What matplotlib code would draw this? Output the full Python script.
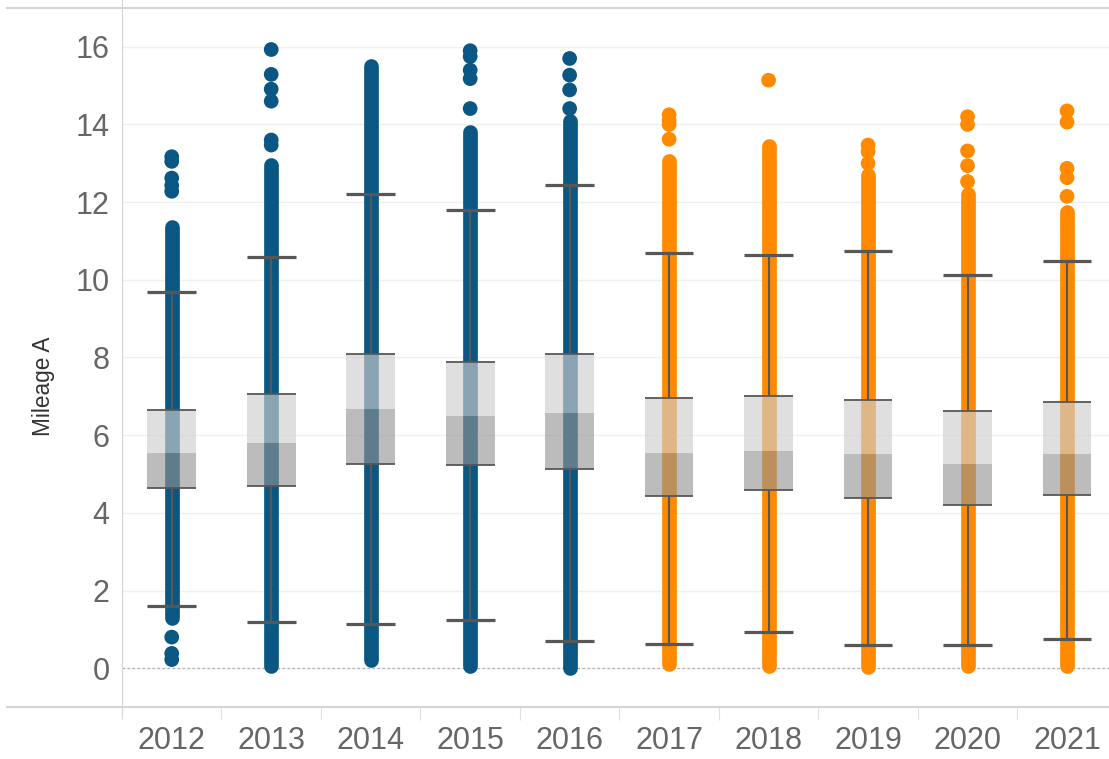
import numpy as np
import matplotlib
matplotlib.use('Agg')
import matplotlib.pyplot as plt
from matplotlib import font_manager

# Fuente estrecha tipo Tableau si existe
try:
    font_manager.findfont('Liberation Sans Narrow', fallback_to_default=False)
    FONT, SCALE = 'Liberation Sans Narrow', 1.1
except ValueError:
    FONT, SCALE = 'Liberation Sans', 0.88
plt.rcParams['font.family'] = [FONT, 'DejaVu Sans']

# Datos
years = ['2012', '2013', '2014', '2015', '2016', '2017', '2018', '2019', '2020', '2021']
colors = ['#0b5783'] * 5 + ['#ff8a00'] * 5

whisker_low = [1.59, 1.18, 1.13, 1.23, 0.69, 0.63, 0.93, 0.59, 0.59, 0.74]
q1 = [4.65, 4.68, 5.26, 5.24, 5.14, 4.44, 4.60, 4.37, 4.19, 4.47]
median = [5.55, 5.80, 6.68, 6.50, 6.57, 5.55, 5.59, 5.52, 5.26, 5.52]
q3 = [6.65, 7.05, 8.09, 7.88, 8.09, 6.96, 7.00, 6.91, 6.63, 6.86]
whisker_high = [9.68, 10.58, 12.20, 11.81, 12.45, 10.68, 10.63, 10.73, 10.12, 10.48]

# Tramo donde los puntos se solapan formando una columna continua
dense_low = [1.30, 0.05, 0.20, 0.05, 0.00, 0.10, 0.05, 0.03, 0.05, 0.05]
dense_high = [11.35, 12.95, 15.50, 13.80, 14.10, 13.05, 13.45, 12.70, 12.20, 11.75]

# Puntos sueltos fuera del tramo continuo
sparse_points = [
    [0.22, 0.38, 0.80, 12.28, 12.43, 12.62, 13.05, 13.17],
    [13.47, 13.60, 14.60, 14.91, 15.29, 15.93],
    [],
    [14.41, 15.18, 15.40, 15.75, 15.90],
    [14.41, 14.89, 15.27, 15.70],
    [13.62, 14.00, 14.10, 14.25],
    [15.14],
    [13.00, 13.30, 13.47],
    [12.53, 12.94, 13.32, 14.00, 14.20],
    [12.15, 12.63, 12.87, 14.06, 14.35],
]

fig = plt.figure(figsize=(11.09, 7.59), dpi=100)
ax = fig.add_axes([0.110, 0.0685, 0.897, 0.921])

x = np.arange(len(years))
dot_pt = 10.6
box_w = 0.49

# Puntos
for i in range(len(years)):
    ax.plot([x[i], x[i]], [dense_low[i], dense_high[i]], color=colors[i],
            lw=dot_pt, solid_capstyle='round', zorder=2)
    if sparse_points[i]:
        ax.scatter([x[i]] * len(sparse_points[i]), sparse_points[i], s=dot_pt ** 2,
                   color=colors[i], edgecolors='none', zorder=2)

# Cajas (dos tonos) semitransparentes
ax.bar(x, np.array(median) - np.array(q1), bottom=q1, width=box_w,
       color='#949494', alpha=0.62, zorder=3)
ax.bar(x, np.array(q3) - np.array(median), bottom=median, width=box_w,
       color='#cfcfcf', alpha=0.65, zorder=3)

# Bigotes y bordes
line_c = '#575757'
ax.vlines(x, q3, whisker_high, color=line_c, lw=1.5, zorder=4)
ax.vlines(x, whisker_low, q1, color=line_c, lw=1.5, zorder=4)
ax.hlines(whisker_high, x - box_w / 2, x + box_w / 2, color=line_c, lw=2.3, zorder=4)
ax.hlines(whisker_low, x - box_w / 2, x + box_w / 2, color=line_c, lw=2.3, zorder=4)
ax.hlines(q1, x - box_w / 2, x + box_w / 2, color=line_c, lw=1.3, zorder=4)
ax.hlines(q3, x - box_w / 2, x + box_w / 2, color=line_c, lw=1.3, zorder=4)

# Ejes
ax.set_xlim(-0.5, len(years) - 0.5)
ax.set_ylim(-1, 17)
ax.set_yticks(np.arange(0, 17, 2))
ax.set_xticks(x)
ax.set_xticklabels(years)
ax.set_xticks(np.arange(-0.5, len(years), 1), minor=True)
ax.tick_params(axis='x', which='major', length=0, pad=14, labelsize=25 * SCALE, labelcolor='#666666')
ax.tick_params(axis='x', which='minor', length=9, width=0.8, color='#e0e0e0')
ax.tick_params(axis='y', length=0, pad=9, labelsize=25 * SCALE, labelcolor='#666666')

ax.grid(axis='y', color='#efefef', lw=1.0, zorder=0)
ax.set_axisbelow(True)
ax.axhline(0, color='#b0b0b0', lw=0.9, ls=(0, (2, 2)), zorder=1)

for s in ['top', 'right']:
    ax.spines[s].set_visible(False)
ax.spines['left'].set_color('#d4d4d4')
ax.spines['left'].set_bounds(-1.2, 17.3)
ax.spines['bottom'].set_visible(False)
# bordes del panel estilo Tableau
ax.axhline(17, xmin=-0.116, xmax=1, color='#d4d4d4', lw=1.5, clip_on=False)
ax.axhline(-1, xmin=-0.116, xmax=1, color='#d4d4d4', lw=1.5, clip_on=False)

ax.set_ylabel('Mileage A', fontsize=18.5 * SCALE, color='#333333')
ax.yaxis.set_label_coords(-0.067, 0.459)

plt.savefig('out.png', dpi=100)
